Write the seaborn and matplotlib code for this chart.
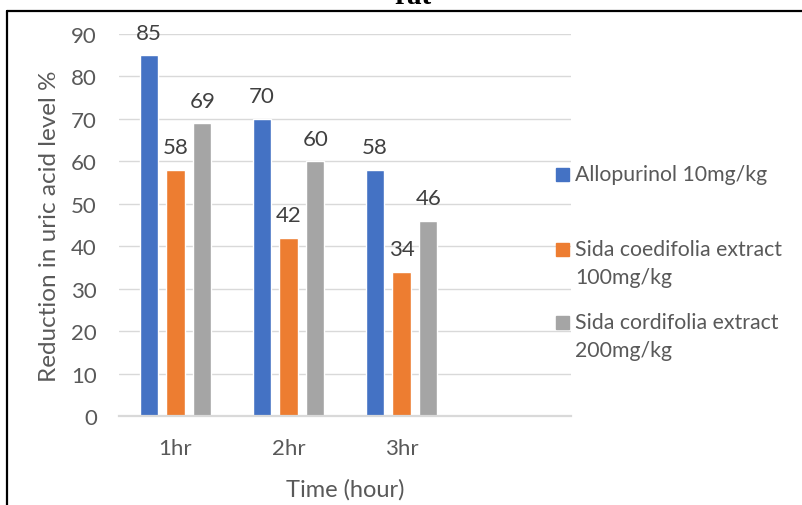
import matplotlib
matplotlib.use("Agg")
import matplotlib.pyplot as plt
from matplotlib.lines import Line2D
from matplotlib.patches import Rectangle
import seaborn as sns
import pandas as pd

# Data
time_points = ["1hr", "2hr", "3hr"]
allopurinol = [85, 70, 58]
sida_100 = [58, 42, 34]
sida_200 = [69, 60, 46]
treatments = [
    "Allopurinol 10mg/kg",
    "Sida coedifolia extract\n100mg/kg",
    "Sida cordifolia extract\n200mg/kg",
]
colors = ["#4472C4", "#ED7D31", "#A5A5A5"]
y_ticks = [0, 10, 20, 30, 40, 50, 60, 70, 80, 90]

df = pd.DataFrame({
    "Time": time_points * 3,
    "Reduction": allopurinol + sida_100 + sida_200,
    "Treatment": [treatments[0]] * 3 + [treatments[1]] * 3 + [treatments[2]] * 3,
})

sns.set_style("white")
plt.rcParams["font.family"] = ["Lato", "DejaVu Sans"]
text_gray = "#595959"

fig = plt.figure(figsize=(8.02, 5.06), dpi=100)
ax = fig.add_axes([119 / 802, 1 - 417 / 506, (571 - 119) / 802, (417 - 35) / 506])

sns.barplot(data=df, x="Time", y="Reduction", hue="Treatment",
            hue_order=treatments, palette=colors, width=0.714, gap=0.33,
            ax=ax, legend=False, saturation=1)

ax.set_xlim(-0.5, 3.5)
ax.set_ylim(0, 90)
ax.set_yticks(y_ticks)
ax.set_yticklabels([str(t) for t in y_ticks])
ax.grid(axis="y", color="#D9D9D9", linewidth=1.0)
ax.set_axisbelow(True)
for side in ["top", "right", "left"]:
    ax.spines[side].set_visible(False)
ax.spines["bottom"].set_color("#D9D9D9")
ax.spines["bottom"].set_linewidth(1.6)
ax.tick_params(axis="both", length=0, labelsize=16, labelcolor=text_gray)
ax.tick_params(axis="y", pad=16)
ax.tick_params(axis="x", pad=16)

ax.set_xlabel("Time (hour)", fontsize=17, color=text_gray, labelpad=14)
ax.set_ylabel("Reduction in uric acid level %", fontsize=17.5, color=text_gray, labelpad=8)

for container in ax.containers:
    ax.bar_label(container, fmt="%g", padding=9, fontsize=16, color="#404040")

# Legend drawn as swatches with labels, first line aligned with the swatch
legend_y = [175, 250, 323]
for label, color, yc in zip(treatments, colors, legend_y):
    fig.patches.append(Rectangle((556 / 802, 1 - (yc + 6.5) / 506), 13 / 802, 13 / 506,
                                 transform=fig.transFigure, color=color))
    fig.text(575 / 802, 1 - (yc - 10) / 506, label, fontsize=15.3, color=text_gray,
             va="top", ha="left", linespacing=1.5)

# Frame lines and clipped title
fig.add_artist(Line2D([7 / 802, 1.0], [1 - 11.5 / 506, 1 - 11.5 / 506],
                      transform=fig.transFigure, color="black", linewidth=1.6))
fig.add_artist(Line2D([7 / 802, 7 / 802], [1 - 11.5 / 506, 0.0],
                      transform=fig.transFigure, color="black", linewidth=1.6))
fig.text(413 / 802, 1 - 4.5 / 506, "rat", fontsize=21, fontweight="bold",
         family="Liberation Serif", ha="center", va="baseline", color="black")

fig.savefig("out.png", dpi=100)
